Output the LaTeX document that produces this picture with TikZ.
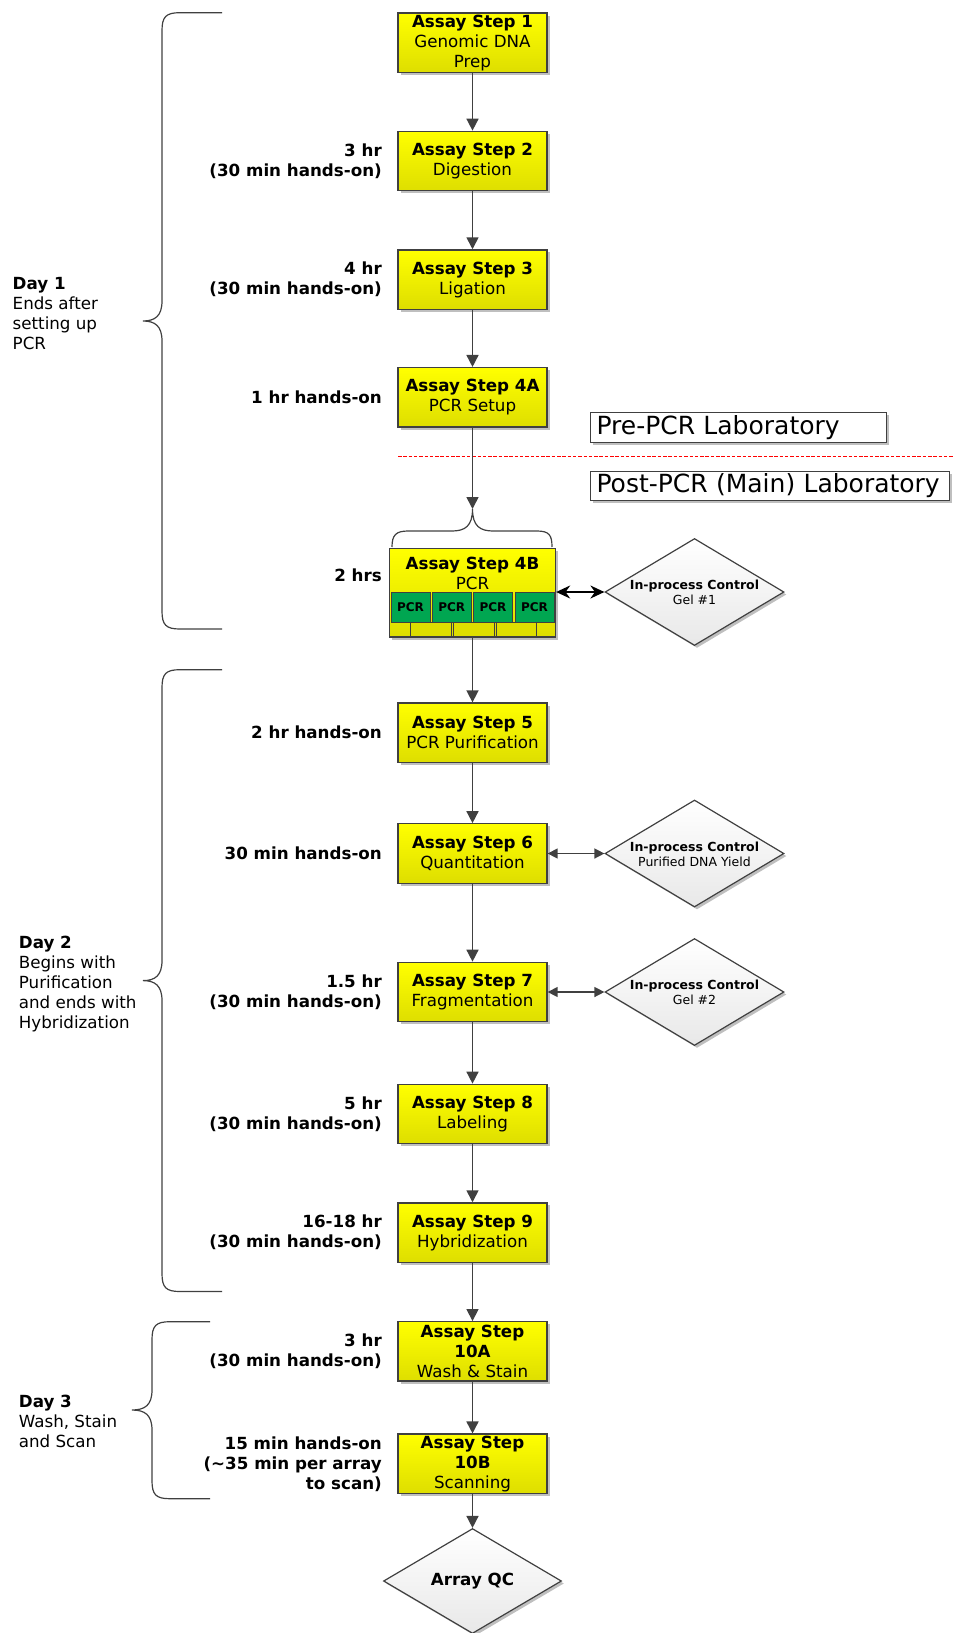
\documentclass[tikz,border=0pt]{standalone}
\usepackage{fontspec}
\setmainfont{DejaVu Sans}
\usetikzlibrary{shapes.geometric,arrows.meta,shadows}
\definecolor{bd}{RGB}{64,64,64}
\definecolor{pcrgreen}{RGB}{0,166,81}
\definecolor{ylw}{RGB}{255,255,0}
\definecolor{ylwd}{RGB}{222,222,0}
\definecolor{dgray}{RGB}{232,232,232}
\newcommand\mainsz{\fontsize{16.7}{20}\selectfont}
\newcommand\smallsz{\fontsize{12.5}{15}\selectfont}
\newcommand\cellsz{\fontsize{12}{15}\selectfont}
\newcommand\labsz{\fontsize{25}{30}\selectfont}
\tikzset{
 shad/.style={drop shadow={shadow xshift=2.5pt,shadow yshift=-2.5pt,opacity=0.25,fill=black}},
 stepbox/.style={shad,draw=bd,line width=1.3pt,top color=ylw,bottom color=ylwd,minimum width=149pt,minimum height=59.4pt,inner sep=0pt,align=center,font=\mainsz},
 timelbl/.style={anchor=east,align=right,font=\mainsz\bfseries,inner sep=0pt},
 daylbl/.style={anchor=west,align=left,font=\mainsz,inner sep=0pt},
 flow/.style={draw=bd,line width=1.6pt,-{Triangle[length=12pt,width=12pt]}},
 both/.style={draw=bd,line width=1.4pt,{Triangle[length=10pt,width=10pt]}-{Triangle[length=10pt,width=10pt]}},
 bothblack/.style={draw=black,line width=1.6pt,{Stealth[length=14pt,width=13pt]}-{Stealth[length=14pt,width=13pt]}},
 ctrl/.style={shad,diamond,draw=bd,line width=1.2pt,top color=white,bottom color=dgray,minimum width=179pt,minimum height=107pt,inner sep=0pt},
 ctrltxt/.style={align=center,font=\smallsz,inner sep=0pt},
 labbox/.style={shad,draw=bd,line width=1pt,fill=white,inner xsep=6pt,inner ysep=0pt,minimum height=29.5pt,font=\labsz,align=left},
 pcrcell/.style={draw=bd,line width=0.9pt,fill=pcrgreen,minimum width=39pt,minimum height=30pt,inner sep=0pt,font=\cellsz\bfseries},
 brick/.style={draw=bd,line width=0.8pt,fill=ylwd},
 bracestyle/.style={draw=bd,line width=1.2pt},
}
\begin{document}
\begin{tikzpicture}[x=1pt,y=-1pt]
\useasboundingbox (0,0) rectangle (953,1633);

% step boxes
\node[stepbox] (s1) at (472.5,42.7) {\textbf{Assay Step 1}\\Genomic DNA\\Prep};
\node[stepbox] (s2) at (472.5,161) {\textbf{Assay Step 2}\\Digestion};
\node[stepbox] (s3) at (472.5,279.6) {\textbf{Assay Step 3}\\Ligation};
\node[stepbox] (s4a) at (472.5,397.3) {\textbf{Assay Step 4A}\\PCR Setup};
\node[stepbox,minimum width=166pt,minimum height=88.5pt] (s4b) at (472.5,592.75) {};
\node[align=center,font=\mainsz,inner sep=0pt] (s4bt) at (472.5,573) {\textbf{Assay Step 4B}\\PCR};
\node[stepbox] (s5) at (472.5,732.7) {\textbf{Assay Step 5}\\PCR Purification};
\node[stepbox] (s6) at (472.5,853.5) {\textbf{Assay Step 6}\\Quantitation};
\node[stepbox] (s7) at (472.5,992) {\textbf{Assay Step 7}\\Fragmentation};
\node[stepbox] (s8) at (472.5,1114) {\textbf{Assay Step 8}\\Labeling};
\node[stepbox] (s9) at (472.5,1232.6) {\textbf{Assay Step 9}\\Hybridization};
\node[stepbox] (s10a) at (472.5,1351.4) {\textbf{Assay Step}\\\textbf{10A}\\Wash \& Stain};
\node[stepbox] (s10b) at (472.5,1463.8) {\textbf{Assay Step}\\\textbf{10B}\\Scanning};

% PCR sub-cells and bricks
\draw[brick] (410,622) rectangle (451.7,636.5);
\draw[brick] (453.3,622) rectangle (494,636.5);
\draw[brick] (496,622) rectangle (536.7,636.5);
\node[pcrcell] (c1) at (410.5,607) {PCR};
\node[pcrcell] (c2) at (451.7,607) {PCR};
\node[pcrcell] (c3) at (493,607) {PCR};
\node[pcrcell] (c4) at (534.5,607) {PCR};

% brace above 4B
\coordinate (tip4b) at (472.5,509);
\draw[bracestyle] (392,547) .. controls (392,535) and (396,531) .. (408,531) -- (452,531)
  .. controls (465,531) and (472.5,526) .. (tip4b)
  .. controls (472.5,526) and (480,531) .. (493,531) -- (537,531)
  .. controls (549,531) and (552,535) .. (552,547);

% control diamonds
\node[ctrl] (d1) at (694.5,592) {};
\node[ctrltxt] (d1t) at (694.5,592.5) {\textbf{In-process Control}\\Gel \#1};
\node[ctrl] (d2) at (694.5,853.5) {};
\node[ctrltxt] (d2t) at (694.5,854) {\textbf{In-process Control}\\Purified DNA Yield};
\node[ctrl] (d3) at (694.5,992) {};
\node[ctrltxt] (d3t) at (694.5,992.5) {\textbf{In-process Control}\\Gel \#2};
\node[ctrl,font=\mainsz\bfseries,minimum width=178pt,minimum height=105pt] (qc) at (472.5,1581) {Array QC};

% lab labels and divider
\node[labbox,text width=284pt] (pre) at (738.5,427.5) {Pre-PCR Laboratory};
\node[labbox,text width=346.5pt] (post) at (769.75,486) {Post-PCR (Main) Laboratory};
\coordinate (dl) at (398,456.5);
\coordinate (dr) at (953,456.5);
\draw[red,line width=1.3pt,dash pattern=on 3.5pt off 1.8pt] (dl) -- (dr);

% flow arrows
\draw[flow] (s1) -- (s2);
\draw[flow] (s2) -- (s3);
\draw[flow] (s3) -- (s4a);
\draw[flow] (s4a.south) -- (tip4b);
\draw[flow] (s4b.south) -- (s5.north);
\draw[flow] (s5) -- (s6);
\draw[flow] (s6) -- (s7);
\draw[flow] (s7) -- (s8);
\draw[flow] (s8) -- (s9);
\draw[flow] (s9) -- (s10a);
\draw[flow] (s10a) -- (s10b);
\draw[flow] (s10b.south) -- (qc.north);
\draw[bothblack] (s4b.east |- d1.west) -- (d1.west);
\draw[both] (s6.east) -- (d2.west);
\draw[both] (s7.east) -- (d3.west);

% time labels
\node[timelbl] (t2) at (382,161) {3 hr\\(30 min hands-on)};
\node[timelbl] (t3) at (382,279.6) {4 hr\\(30 min hands-on)};
\node[timelbl] (t4a) at (382,397.3) {1 hr hands-on};
\node[timelbl] (t4b) at (382,575) {2 hrs};
\node[timelbl] (t5) at (382,732.7) {2 hr hands-on};
\node[timelbl] (t6) at (382,853.5) {30 min hands-on};
\node[timelbl] (t7) at (382,992) {1.5 hr\\(30 min hands-on)};
\node[timelbl] (t8) at (382,1114) {5 hr\\(30 min hands-on)};
\node[timelbl] (t9) at (382,1232.6) {16-18 hr\\(30 min hands-on)};
\node[timelbl] (t10a) at (382,1351.4) {3 hr\\(30 min hands-on)};
\node[timelbl] (t10b) at (382,1463.8) {15 min hands-on\\(\textasciitilde35 min per array\\to scan)};

% day braces
\draw[bracestyle] (222,12.7) -- (180,12.7) .. controls (166,12.7) and (162,16.7) .. (162,30.7)
  -- (162,301) .. controls (162,316) and (155,321) .. (143,321)
  .. controls (155,321) and (162,326) .. (162,341)
  -- (162,611) .. controls (162,625) and (166,629) .. (180,629) -- (222,629);
\draw[bracestyle] (222,669.7) -- (180,669.7) .. controls (166,669.7) and (162,673.7) .. (162,687.7)
  -- (162,960.6) .. controls (162,975.6) and (155,980.6) .. (143,980.6)
  .. controls (155,980.6) and (162,985.6) .. (162,1000.6)
  -- (162,1273.5) .. controls (162,1287.5) and (166,1291.5) .. (180,1291.5) -- (222,1291.5);
\draw[bracestyle] (210,1321.7) -- (170,1321.7) .. controls (156,1321.7) and (152,1325.7) .. (152,1339.7)
  -- (152,1390) .. controls (152,1405) and (145,1410) .. (132,1410)
  .. controls (145,1410) and (152,1415) .. (152,1430)
  -- (152,1480.7) .. controls (152,1494.7) and (156,1498.7) .. (170,1498.7) -- (210,1498.7);

% day labels
\node[daylbl] (day1) at (12.5,313.5) {\textbf{Day 1}\\Ends after\\setting up\\PCR};
\node[daylbl] (day2) at (18.7,983.7) {\textbf{Day 2}\\Begins with\\Purification\\and ends with\\Hybridization};
\node[daylbl] (day3) at (18.7,1421.6) {\textbf{Day 3}\\Wash, Stain\\and Scan};
\end{tikzpicture}
\end{document}
